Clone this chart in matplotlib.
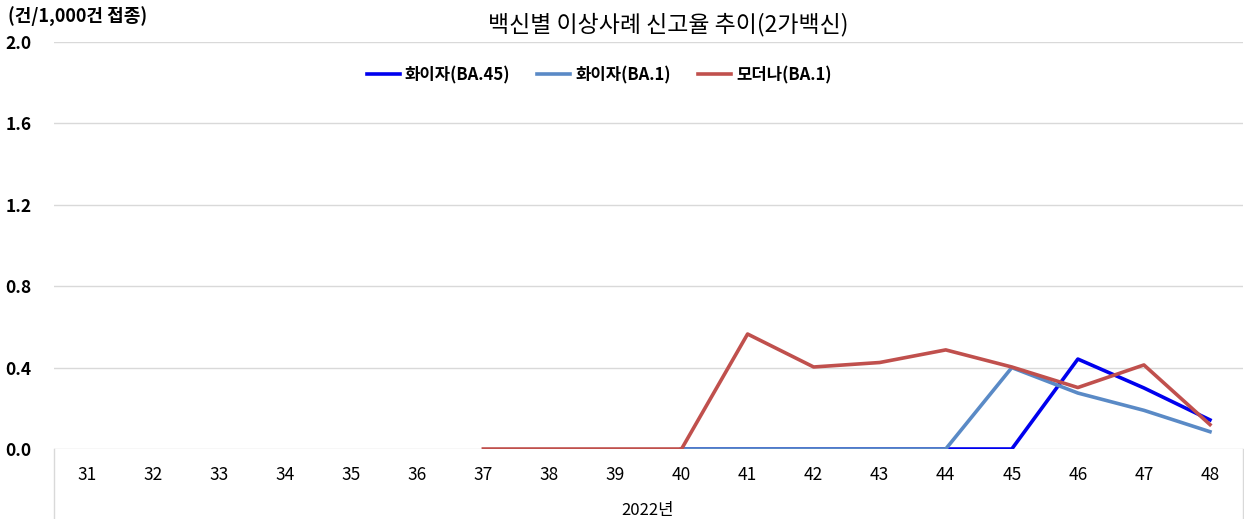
import matplotlib
matplotlib.use("Agg")
import matplotlib.pyplot as plt

plt.rcParams['font.family'] = ['Noto Sans CJK KR', 'DejaVu Sans']

weeks = list(range(31, 49))
week_labels = [str(w) for w in weeks]

pfizer_ba45_weeks = [40, 41, 42, 43, 44, 45, 46, 47, 48]
pfizer_ba45 = [0, 0, 0, 0, 0, 0, 0.442, 0.30, 0.143]

pfizer_ba1_weeks = [40, 41, 42, 43, 44, 45, 46, 47, 48]
pfizer_ba1 = [0, 0, 0, 0, 0, 0.40, 0.275, 0.19, 0.085]

moderna_ba1_weeks = [37, 38, 39, 40, 41, 42, 43, 44, 45, 46, 47, 48]
moderna_ba1 = [0, 0, 0, 0, 0.565, 0.403, 0.425, 0.487, 0.403, 0.302, 0.413, 0.12]

yticks = [0.0, 0.4, 0.8, 1.2, 1.6, 2.0]

W, H = 1244, 519
fig = plt.figure(figsize=(W / 100, H / 100), dpi=100)
left, right, top, bottom = 54, 1243, 42, 449
ax = fig.add_axes([left / W, 1 - bottom / H, (right - left) / W, (bottom - top) / H])

ax.set_xlim(30.5, 48.5)
ax.set_ylim(0, 2.0)
for s in ax.spines.values():
    s.set_visible(False)

for y in yticks:
    ax.axhline(y, color='#d9d9d9', lw=1.0, zorder=0)

ax.plot(pfizer_ba45_weeks, pfizer_ba45, color='#0000ee', lw=2.6, label='화이자(BA.45)', zorder=3)
ax.plot(pfizer_ba1_weeks, pfizer_ba1, color='#5a8ac6', lw=2.6, label='화이자(BA.1)', zorder=4)
ax.plot(moderna_ba1_weeks, moderna_ba1, color='#c0504d', lw=2.6, label='모더나(BA.1)', zorder=5)

ax.set_yticks(yticks)
ax.set_yticklabels([f"{v:.1f}" for v in yticks], fontsize=12.5, fontweight='bold')
ax.tick_params(axis='y', length=0, pad=16)
ax.set_xticks(weeks)
ax.set_xticklabels(week_labels, fontsize=12.5)
ax.tick_params(axis='x', length=0, pad=12)

# table-like box below axis
ax.plot([30.5, 30.5], [0, -0.35], color='#d9d9d9', lw=1.0, clip_on=False)
ax.plot([48.5, 48.5], [0, -0.35], color='#d9d9d9', lw=1.0, clip_on=False)

fig.text(648 / W, 1 - 510 / H, '2022년', ha='center', va='center', fontsize=12)
fig.text(668 / W, 1 - 25 / H, '백신별 이상사례 신고율 추이(2가백신)', ha='center', va='center', fontsize=16.5)
fig.text(8 / W, 1 - 17 / H, '(건/1,000건 접종)', ha='left', va='center', fontsize=13, fontweight='bold')

leg = ax.legend(loc='center', bbox_to_anchor=(599 / W, 1 - 75 / H), bbox_transform=fig.transFigure,
                ncol=3, frameon=False, handlelength=2.0, handletextpad=0.3, columnspacing=1.6,
                prop={'weight': 'bold', 'size': 12})

fig.savefig('out.png', dpi=100)
